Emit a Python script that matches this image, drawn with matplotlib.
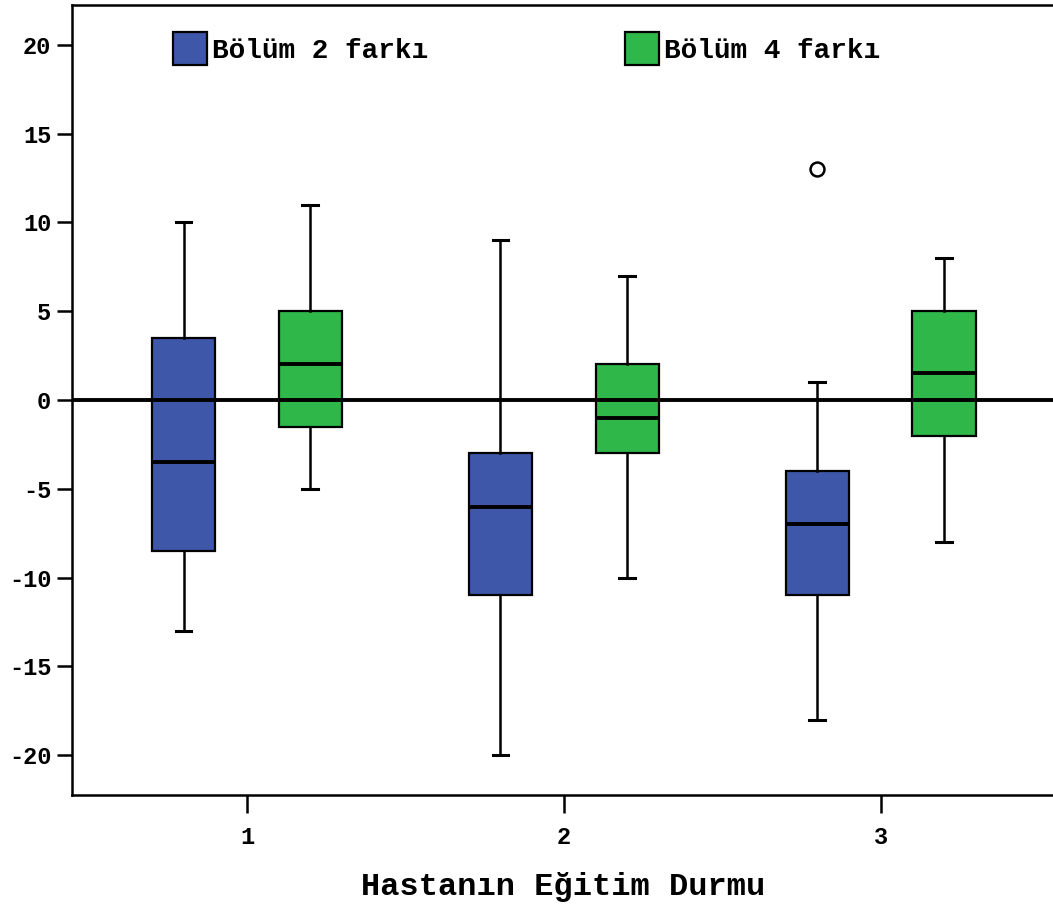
import matplotlib
matplotlib.use("Agg")
import matplotlib.pyplot as plt
from matplotlib.patches import Patch

plt.rcParams['font.family'] = ['Liberation Mono', 'DejaVu Sans Mono']
plt.rcParams['font.weight'] = 'bold'

# education groups on the x axis
groups = [1, 2, 3]
series_names = ['Bölüm 2 farkı', 'Bölüm 4 farkı']
series_colors = ['#3e57a8', '#2fb849']

# box statistics: whislo, q1, med, q3, whishi
stats_bolum2 = [
    (-13, -8.5, -3.5, 3.5, 10),
    (-20, -11, -6, -3, 9),
    (-18, -11, -7, -4, 1),
]
stats_bolum4 = [
    (-5, -1.5, 2, 5, 11),
    (-10, -3, -1, 2, 7),
    (-8, -2, 1.5, 5, 8),
]
fliers_bolum2 = [[], [], [13]]
fliers_bolum4 = [[], [], []]

yticks = [-20, -15, -10, -5, 0, 5, 10, 15, 20]


def make_stats(rows, fliers):
    out = []
    for (lo, q1, med, q3, hi), fl in zip(rows, fliers):
        out.append(dict(whislo=lo, q1=q1, med=med, q3=q3, whishi=hi, fliers=fl))
    return out


fig = plt.figure(figsize=(10.53, 9.06), dpi=100)
ax = fig.add_axes([72 / 1053, 1 - 795 / 906, 1 - 72 / 1053 + 0.002, (795 - 5) / 906])

offset = 0.2
all_stats = [(stats_bolum2, fliers_bolum2, -offset), (stats_bolum4, fliers_bolum4, offset)]
for (rows, fliers, off), color in zip(all_stats, series_colors):
    ax.bxp(
        make_stats(rows, fliers),
        positions=[g + off for g in groups],
        widths=0.2,
        capwidths=0.05,
        patch_artist=True,
        showfliers=True,
        boxprops=dict(facecolor=color, edgecolor='black', linewidth=1.6),
        whiskerprops=dict(color='black', linewidth=1.8),
        capprops=dict(color='black', linewidth=2.2),
        medianprops=dict(color='black', linewidth=2.8),
        flierprops=dict(marker='o', markerfacecolor='white', markeredgecolor='black',
                        markersize=10, markeredgewidth=1.8),
        zorder=2,
    )

# zero reference line, drawn over the boxes
ax.axhline(0, color='black', lw=2.8, zorder=3)

ax.set_xlim(0.448, 3.55)
ax.set_ylim(-22.25, 22.25)
ax.set_xticks(groups)
ax.set_xticklabels([str(g) for g in groups])
ax.set_yticks(yticks)
ax.set_yticklabels([str(v) for v in yticks])

ax.tick_params(axis='y', direction='out', length=11, width=1.8, labelsize=17, pad=4)
ax.tick_params(axis='x', direction='out', length=13, width=1.8, labelsize=17, pad=9)
for side in ['left', 'bottom', 'top']:
    ax.spines[side].set_linewidth(1.8)
ax.spines['right'].set_visible(False)

ax.set_xlabel('Hastanın Eğitim Durmu', fontsize=23, fontweight='bold', labelpad=17)

handles = [Patch(facecolor=c, edgecolor='black', linewidth=1.6) for c in series_colors]
ax.legend(handles, series_names, ncol=2, loc='upper left',
          bbox_to_anchor=(0.103, 0.966), frameon=False, fontsize=20,
          handlelength=1.2, handleheight=1.45, handletextpad=0.2,
          columnspacing=7.1, borderpad=0, borderaxespad=0)

fig.savefig('out.png', dpi=100)
